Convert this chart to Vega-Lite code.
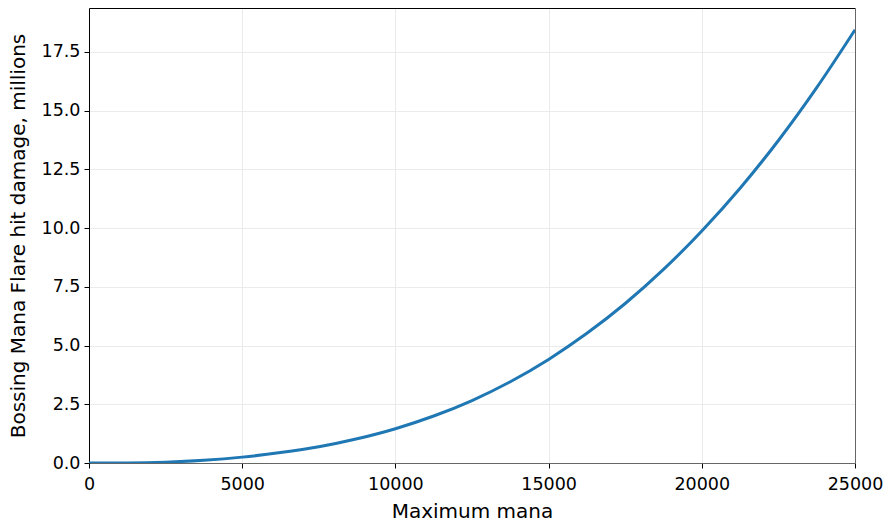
{
  "$schema": "https://vega.github.io/schema/vega-lite/v6.json",
  "width": 766,
  "height": 455,
  "autosize": {"type": "none"},
  "padding": {"left": 89, "top": 8, "right": 36, "bottom": 67},
  "background": "white",
  "config": {
    "view": {"stroke": null},
    "font": "DejaVu Sans",
    "axis": {
      "labelFont": "DejaVu Sans",
      "titleFont": "DejaVu Sans",
      "labelFontSize": 17.5,
      "titleFontSize": 20,
      "titleFontWeight": "normal",
      "labelColor": "black",
      "titleColor": "black",
      "tickColor": "black",
      "tickSize": 5,
      "labelFlush": false,
      "gridColor": "#ebebeb",
      "gridWidth": 1
    }
  },
  "data": {
    "values": [
      {"mana": 0, "damage": 0},
      {"mana": 1250, "damage": 0.004},
      {"mana": 2500, "damage": 0.036},
      {"mana": 3750, "damage": 0.117},
      {"mana": 5000, "damage": 0.25},
      {"mana": 6250, "damage": 0.443},
      {"mana": 7500, "damage": 0.69},
      {"mana": 8750, "damage": 1.03},
      {"mana": 10000, "damage": 1.46},
      {"mana": 11250, "damage": 2.0},
      {"mana": 12500, "damage": 2.66},
      {"mana": 13750, "damage": 3.46},
      {"mana": 15000, "damage": 4.41},
      {"mana": 16250, "damage": 5.52},
      {"mana": 17500, "damage": 6.79},
      {"mana": 18750, "damage": 8.24},
      {"mana": 20000, "damage": 9.88},
      {"mana": 21250, "damage": 11.7},
      {"mana": 22500, "damage": 13.73},
      {"mana": 23750, "damage": 15.98},
      {"mana": 25000, "damage": 18.44}
    ]
  },
  "layer": [
    {
      "mark": {"type": "line", "color": "#1f77b4", "strokeWidth": 3, "interpolate": "monotone", "clip": true},
      "encoding": {
        "x": {
          "field": "mana",
          "type": "quantitative",
          "title": "Maximum mana",
          "scale": {"domain": [0, 25000], "nice": false},
          "axis": {
            "values": [0, 5000, 10000, 15000, 20000, 25000],
            "format": "d",
            "domainColor": "#666666",
            "labelPadding": 7,
            "titlePadding": 9
          }
        },
        "y": {
          "field": "damage",
          "type": "quantitative",
          "title": "Bossing Mana Flare hit damage, millions",
          "scale": {"domain": [0, 19.37], "nice": false, "zero": true},
          "axis": {
            "values": [0, 2.5, 5, 7.5, 10, 12.5, 15, 17.5],
            "format": ".1f",
            "domainColor": "black",
            "labelPadding": 4,
            "titlePadding": 13
          }
        }
      }
    },
    {
      "mark": {"type": "line", "opacity": 0},
      "encoding": {
        "x": {
          "field": "mana",
          "type": "quantitative",
          "axis": {"orient": "top", "labels": false, "ticks": false, "grid": false, "title": null, "domainColor": "black"}
        },
        "y": {
          "field": "damage",
          "type": "quantitative",
          "axis": {"orient": "right", "labels": false, "ticks": false, "grid": false, "title": null, "domainColor": "#666666"}
        }
      }
    }
  ],
  "resolve": {"axis": {"x": "independent", "y": "independent"}}
}
